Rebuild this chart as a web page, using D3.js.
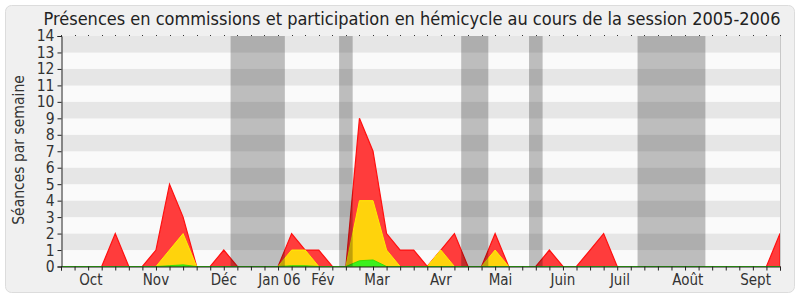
<!DOCTYPE html>
<html>
<head>
<meta charset="utf-8">
<script src="https://cdn.jsdelivr.net/npm/d3@7.9.0/dist/d3.min.js"></script>
<style>
  body { margin: 0; background: #fff; }
  svg { display: block; }
</style>
</head>
<body>
<svg id="chart" width="800" height="300"></svg>
<script>
// weekly values, session 2005-2006 (54 weeks)
const hemicycle = [0,0,0,0,2,0,0,1,5,3,0,0,1,0,0,0,0,2,1,1,0,0,9,7,2,1,1,0,1,2,0,0,2,0,0,0,1,0,0,1,2,0,0,0,0,0,0,0,0,0,0,0,0,2];
const commission = [0,0,0,0,0,0,0,0,1,2,0,0,0,0,0,0,0,1,1,0,0,0,4,4,1,0,0,0,1,0,0,0,1,0,0,0,0,0,0,0,0,0,0,0,0,0,0,0,0,0,0,0,0,0];
const presence = [0,0,0,0,0,0,0,0,0.05,0.1,0,0,0,0,0,0,0,0.05,0.05,0,0,0,0.35,0.4,0,0,0,0,0,0,0,0,0,0,0,0,0,0,0,0,0,0,0,0,0,0,0,0,0,0,0,0,0,0];

// vacations (week index start/end)
const vacances = [[12.5, 16.5], [20.5, 21.5], [29.5, 31.5], [34.5, 35.5], [42.5, 47.5]];

const monthLabels = ['Oct', 'Nov', 'Déc', 'Jan 06', 'Fév', 'Mar', 'Avr', 'Mai', 'Juin', 'Juil', 'Août', 'Sept'];
const monthPos = [2.2, 7, 12, 16.1, 19.3, 23.3, 28, 32.4, 37, 41.2, 46.2, 51.2];

const yTicks = d3.range(0, 15);

const svg = d3.select('#chart');
const font = 'DejaVu Sans Condensed, DejaVu Sans, sans-serif';

// frame
svg.append('rect')
  .attr('x', 5.5).attr('y', 5.5)
  .attr('width', 789).attr('height', 287)
  .attr('rx', 6)
  .attr('fill', '#f0f0f0')
  .attr('stroke', '#dcdcdc');

const x = d3.scaleLinear().domain([0, hemicycle.length - 1]).range([61, 780]);
const y = d3.scaleLinear().domain([0, 14]).range([266.5, 36]);

// stripes
svg.append('g').selectAll('rect')
  .data(d3.range(0, 14))
  .join('rect')
  .attr('x', x(0))
  .attr('width', x(53) - x(0))
  .attr('y', d => y(d + 1))
  .attr('height', d => y(d) - y(d + 1))
  .attr('fill', d => d % 2 ? '#e6e6e6' : '#fafafa');

// areas
const area = data => d3.area()
  .x((d, i) => x(i))
  .y0(y(0))
  .y1(d => y(d))(data);

svg.append('path').attr('d', area(hemicycle))
  .attr('fill', '#ff3c3c').attr('stroke', '#ff1010').attr('stroke-width', 1.2);
svg.append('path').attr('d', area(commission))
  .attr('fill', '#ffd30c').attr('stroke', '#ffee00').attr('stroke-width', 1);
svg.append('path').attr('d', area(presence))
  .attr('fill', '#3cf01e').attr('stroke', '#22dd00').attr('stroke-width', 0.8);

// vacations on top
svg.append('g').selectAll('rect')
  .data(vacances)
  .join('rect')
  .attr('x', d => x(d[0]))
  .attr('width', d => x(d[1]) - x(d[0]))
  .attr('y', y(14))
  .attr('height', y(0) - y(14))
  .attr('fill', 'rgba(0,0,0,0.245)');

// right border
svg.append('line')
  .attr('x1', 780.5).attr('x2', 780.5)
  .attr('y1', y(14)).attr('y2', y(0))
  .attr('stroke', '#c8c8c8');

// top dots
svg.append('g').selectAll('rect')
  .data(d3.range(0, hemicycle.length))
  .join('rect')
  .attr('x', i => Math.round(x(i)))
  .attr('y', y(14) - 1)
  .attr('width', 1).attr('height', 1)
  .attr('fill', '#333');

// axes
const yAxis = d3.axisLeft(y).tickValues(yTicks).tickSize(4).tickPadding(3).tickFormat(d3.format('d'));
const gy = svg.append('g').attr('transform', 'translate(61.5,0)').call(yAxis);
gy.select('.domain').attr('stroke', '#222');
gy.selectAll('.tick line').attr('stroke', '#222');
gy.selectAll('text').attr('font-family', font).attr('font-size', 15.5).attr('fill', '#333');

const xAxis = d3.axisBottom(x).tickValues(d3.range(0, hemicycle.length)).tickSize(4).tickFormat('');
const gx = svg.append('g').attr('transform', `translate(0,${y(0)})`).call(xAxis);
gx.select('.domain').attr('stroke', '#222');
gx.selectAll('.tick line').attr('stroke', '#222');

svg.append('g').selectAll('text')
  .data(monthLabels)
  .join('text')
  .attr('x', (d, i) => x(monthPos[i]))
  .attr('y', 285)
  .attr('text-anchor', 'middle')
  .attr('font-family', font)
  .attr('font-size', 15)
  .attr('fill', '#333')
  .text(d => d);

// titles
svg.append('text')
  .attr('x', 412).attr('y', 25)
  .attr('text-anchor', 'middle')
  .attr('font-family', font)
  .attr('font-size', 18)
  .attr('fill', '#222')
  .text('Présences en commissions et participation en hémicycle au cours de la session 2005-2006');

svg.append('text')
  .attr('transform', 'translate(24,150) rotate(-90)')
  .attr('text-anchor', 'middle')
  .attr('font-family', font)
  .attr('font-size', 15.5)
  .attr('fill', '#333')
  .text('Séances par semaine');
</script>
</body>
</html>
